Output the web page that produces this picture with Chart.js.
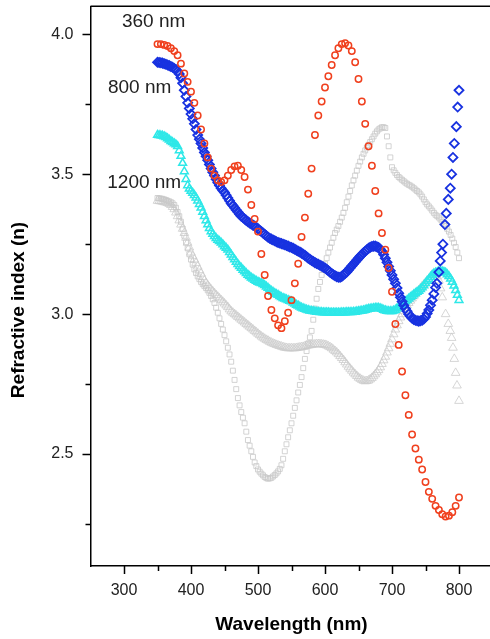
<!DOCTYPE html>
<html>
<head>
<meta charset="utf-8">
<script src="https://cdn.jsdelivr.net/npm/chart.js@4.4.0/dist/chart.umd.min.js"></script>
<style>
  html, body { margin: 0; padding: 0; background: #fff; overflow: hidden; }
</style>
</head>
<body>
<canvas id="grafico" width="500" height="639"></canvas>
<script>
// eixos
const ticksX = [300, 400, 500, 600, 700, 800];
const minorX = [350, 450, 550, 650, 750];
const ticksY = [2.5, 3.0, 3.5, 4.0];
const minorY = [2.25, 2.75, 3.25, 3.75];

// comprimentos de onda (nm), passo de 5
const comp = [350,355,360,365,370,375,380,385,390,395,400,405,410,415,420,425,430,435,440,445,
  450,455,460,465,470,475,480,485,490,495,500,505,510,515,520,525,530,535,540,545,
  550,555,560,565,570,575,580,585,590,595,600,605,610,615,620,625,630,635,640,645,
  650,655,660,665,670,675,680,685,690,695,700,705,710,715,720,725,730,735,740,745,
  750,755,760,765,770,775,780,785,790,795,800];

// passo de 2,5 nm
const comp25 = [350,352.5,355,357.5,360,362.5,365,367.5,370,372.5,375,377.5,380,382.5,385,387.5,390,392.5,395,397.5,
  400,402.5,405,407.5,410,412.5,415,417.5,420,422.5,425,427.5,430,432.5,435,437.5,440,442.5,445,447.5,
  450,452.5,455,457.5,460,462.5,465,467.5,470,472.5,475,477.5,480,482.5,485,487.5,490,492.5,495,497.5,
  500,502.5,505,507.5,510,512.5,515,517.5,520,522.5,525,527.5,530,532.5,535,537.5,540,542.5,545,547.5,
  550,552.5,555,557.5,560,562.5,565,567.5,570,572.5,575,577.5,580,582.5,585,587.5,590,592.5,595,597.5,
  600,602.5,605,607.5,610,612.5,615,617.5,620,622.5,625,627.5,630,632.5,635,637.5,640,642.5,645,647.5,
  650,652.5,655,657.5,660,662.5,665,667.5,670,672.5,675,677.5,680,682.5,685,687.5,690,692.5,695,697.5,
  700,702.5,705,707.5,710,712.5,715,717.5,720,722.5,725,727.5,730,732.5,735,737.5,740,742.5,745,747.5,
  750,752.5,755,757.5,760,762.5,765,767.5,770,772.5,775,777.5,780,782.5,785,787.5,790,792.5,795,797.5,800];

// 360 nm (vermelho)
const n360 = [3.965,3.965,3.962,3.958,3.950,3.940,3.925,3.895,3.860,3.830,3.795,3.755,3.710,3.660,3.610,3.560,3.520,3.495,3.478,3.472,
  3.478,3.495,3.515,3.528,3.530,3.515,3.490,3.445,3.390,3.340,3.295,3.215,3.140,3.065,3.015,2.985,2.960,2.950,2.975,3.005,
  3.050,3.110,3.180,3.276,3.345,3.430,3.520,3.640,3.710,3.760,3.810,3.850,3.890,3.925,3.950,3.965,3.968,3.960,3.940,3.900,
  3.840,3.760,3.680,3.600,3.530,3.440,3.360,3.290,3.230,3.165,3.080,2.965,2.890,2.795,2.710,2.640,2.570,2.520,2.480,2.445,
  2.400,2.365,2.340,2.315,2.300,2.285,2.277,2.280,2.292,2.315,2.345];

// 800 nm (azul): passo de 2,5 ate 765 nm, depois os losangos isolados
const comp800 = comp25.filter(v => v <= 765).concat([767,770,772,774,776,779,781,784,787,789,791,793,796,798,800]);
const n800 = [3.900,3.899,3.898,3.897,3.895,3.893,3.890,3.888,3.885,3.882,3.878,3.874,3.868,3.858,3.845,3.825,3.800,3.778,3.755,3.735,
  3.715,3.698,3.680,3.660,3.640,3.625,3.610,3.594,3.578,3.564,3.550,3.535,3.520,3.507,3.495,3.482,3.470,3.460,3.450,3.442,
  3.435,3.425,3.415,3.405,3.395,3.388,3.380,3.372,3.365,3.357,3.350,3.345,3.340,3.335,3.330,3.326,3.322,3.318,3.315,3.310,
  3.305,3.300,3.295,3.290,3.285,3.280,3.275,3.271,3.268,3.265,3.262,3.259,3.256,3.254,3.252,3.250,3.248,3.245,3.243,3.240,
  3.238,3.235,3.232,3.228,3.225,3.222,3.218,3.214,3.210,3.205,3.200,3.196,3.192,3.188,3.184,3.181,3.178,3.175,3.172,3.168,
  3.165,3.160,3.155,3.150,3.145,3.141,3.137,3.134,3.132,3.132,3.135,3.140,3.145,3.151,3.158,3.165,3.172,3.179,3.186,3.193,
  3.200,3.207,3.213,3.219,3.225,3.230,3.235,3.239,3.242,3.243,3.243,3.241,3.238,3.232,3.225,3.213,3.200,3.185,3.170,3.155,
  3.140,3.125,3.110,3.093,3.075,3.060,3.045,3.032,3.020,3.010,3.000,2.992,2.985,2.981,2.978,2.976,2.975,2.976,2.978,2.983,
  2.990,3.002,3.015,3.032,3.050,3.072,3.095,
  3.110,3.150,3.190,3.220,3.250,3.320,3.360,3.410,3.450,3.500,3.560,3.610,3.670,3.740,3.800];

// 1200 nm (ciano), passo de 2,5
const n1200 = [3.640,3.639,3.638,3.637,3.635,3.632,3.628,3.623,3.618,3.614,3.610,3.606,3.600,3.585,3.565,3.540,3.510,3.482,3.460,3.448,
  3.440,3.433,3.425,3.416,3.405,3.393,3.380,3.365,3.350,3.335,3.320,3.307,3.295,3.286,3.278,3.271,3.265,3.260,3.255,3.249,
  3.242,3.236,3.230,3.221,3.212,3.203,3.195,3.186,3.178,3.171,3.165,3.158,3.152,3.146,3.140,3.135,3.130,3.126,3.122,3.118,
  3.115,3.112,3.110,3.107,3.103,3.098,3.093,3.088,3.083,3.079,3.075,3.071,3.068,3.064,3.060,3.057,3.055,3.052,3.050,3.047,
  3.045,3.041,3.037,3.033,3.030,3.026,3.023,3.020,3.018,3.016,3.014,3.012,3.011,3.010,3.009,3.008,3.008,3.007,3.007,3.006,
  3.006,3.006,3.006,3.005,3.005,3.005,3.005,3.005,3.005,3.005,3.006,3.006,3.006,3.007,3.007,3.007,3.007,3.008,3.008,3.009,
  3.010,3.011,3.012,3.013,3.015,3.017,3.018,3.019,3.020,3.021,3.022,3.022,3.022,3.020,3.018,3.015,3.013,3.011,3.010,3.010,
  3.010,3.012,3.015,3.020,3.025,3.030,3.035,3.040,3.045,3.050,3.055,3.060,3.065,3.070,3.075,3.079,3.083,3.089,3.095,3.102,
  3.110,3.118,3.125,3.133,3.140,3.145,3.148,3.150,3.152,3.153,3.152,3.151,3.148,3.142,3.135,3.126,3.115,3.101,3.085,3.068,3.050];

// cinza, quadrados, passo de 2,5
const cinzaQ = [3.415,3.414,3.413,3.412,3.410,3.408,3.405,3.403,3.400,3.396,3.390,3.380,3.365,3.350,3.330,3.305,3.280,3.257,3.235,3.214,
  3.195,3.177,3.160,3.147,3.135,3.125,3.115,3.107,3.100,3.093,3.085,3.076,3.065,3.053,3.040,3.023,3.005,2.985,2.965,2.945,
  2.925,2.903,2.880,2.856,2.830,2.798,2.765,2.732,2.700,2.674,2.650,2.630,2.610,2.580,2.550,2.530,2.510,2.490,2.470,2.457,
  2.445,2.437,2.430,2.424,2.418,2.414,2.412,2.413,2.415,2.420,2.425,2.431,2.438,2.447,2.460,2.483,2.510,2.535,2.560,2.585,
  2.610,2.637,2.665,2.692,2.720,2.747,2.775,2.807,2.840,2.868,2.895,2.917,2.940,2.980,3.020,3.055,3.090,3.115,3.140,3.160,
  3.180,3.200,3.220,3.238,3.255,3.273,3.290,3.302,3.315,3.330,3.345,3.362,3.380,3.400,3.420,3.440,3.460,3.478,3.495,3.513,
  3.530,3.545,3.560,3.573,3.585,3.595,3.605,3.615,3.625,3.635,3.645,3.653,3.660,3.664,3.668,3.668,3.665,3.635,3.600,3.560,
  3.525,3.514,3.505,3.497,3.490,3.485,3.480,3.475,3.470,3.466,3.462,3.459,3.455,3.450,3.445,3.440,3.435,3.428,3.420,3.410,
  3.400,3.392,3.385,3.378,3.370,3.362,3.355,3.350,3.345,3.338,3.330,3.323,3.315,3.305,3.295,3.283,3.270,3.255,3.240,3.220,3.200];

// cinza, triangulos: passo de 2,5 ate 775 nm, depois os triangulos isolados
const compT = comp25.filter(v => v <= 775).concat([780,784,787,789,791,793,795,797,800]);
const cinzaT = [3.405,3.404,3.403,3.402,3.400,3.399,3.397,3.394,3.390,3.383,3.375,3.363,3.350,3.335,3.320,3.305,3.290,3.273,3.255,3.238,
  3.220,3.207,3.195,3.183,3.170,3.157,3.145,3.132,3.120,3.111,3.103,3.095,3.088,3.081,3.075,3.068,3.062,3.056,3.050,3.044,
  3.038,3.031,3.025,3.017,3.010,3.005,3.000,2.995,2.990,2.985,2.980,2.975,2.970,2.965,2.960,2.955,2.950,2.945,2.940,2.935,
  2.930,2.925,2.920,2.916,2.912,2.908,2.905,2.901,2.898,2.895,2.893,2.890,2.888,2.886,2.884,2.882,2.880,2.879,2.878,2.878,
  2.878,2.878,2.878,2.879,2.880,2.881,2.882,2.883,2.885,2.887,2.888,2.889,2.890,2.891,2.892,2.893,2.893,2.893,2.892,2.891,
  2.890,2.888,2.885,2.882,2.878,2.873,2.868,2.863,2.857,2.850,2.843,2.836,2.828,2.820,2.812,2.805,2.798,2.791,2.785,2.779,
  2.773,2.769,2.765,2.762,2.760,2.761,2.763,2.767,2.772,2.778,2.785,2.792,2.800,2.810,2.822,2.835,2.848,2.863,2.878,2.894,
  2.910,2.928,2.945,2.960,2.975,2.988,3.000,3.011,3.022,3.031,3.040,3.048,3.056,3.064,3.072,3.079,3.085,3.093,3.100,3.106,
  3.112,3.119,3.125,3.133,3.140,3.143,3.145,3.135,3.120,3.092,3.060,
  3.000,2.965,2.940,2.915,2.880,2.840,2.790,2.745,2.690];

// rotulos das curvas [texto, nm, n]
const rotulos = [['360 nm', 297, 4.045], ['800 nm', 276, 3.81], ['1200 nm', 275, 3.47]];

const pontos = (xs, ys) => xs.map((x, i) => ({ x: x, y: ys[i] }));
const fonte = '"Liberation Sans", Arial, sans-serif';

const extras = {
  id: 'extras',
  afterDraw(chart) {
    const { ctx, chartArea: a, scales: { x, y } } = chart;
    ctx.save();
    ctx.strokeStyle = '#000';
    ctx.lineWidth = 1.5;
    ctx.beginPath();
    ctx.moveTo(a.left, a.top);
    ctx.lineTo(a.right, a.top);
    ticksX.forEach(v => { const p = Math.round(x.getPixelForValue(v)) + 0.5; ctx.moveTo(p, a.bottom); ctx.lineTo(p, a.bottom + 8); });
    minorX.forEach(v => { const p = Math.round(x.getPixelForValue(v)) + 0.5; ctx.moveTo(p, a.bottom); ctx.lineTo(p, a.bottom + 5); });
    ticksY.forEach(v => { const p = Math.round(y.getPixelForValue(v)) + 0.5; ctx.moveTo(a.left, p); ctx.lineTo(a.left - 8, p); });
    minorY.forEach(v => { const p = Math.round(y.getPixelForValue(v)) + 0.5; ctx.moveTo(a.left, p); ctx.lineTo(a.left - 5, p); });
    ctx.stroke();

    ctx.fillStyle = '#222';
    ctx.font = '19px ' + fonte;
    ctx.textAlign = 'left';
    ctx.textBaseline = 'middle';
    rotulos.forEach(r => ctx.fillText(r[0], x.getPixelForValue(r[1]), y.getPixelForValue(r[2])));

    ctx.fillStyle = '#000';
    ctx.font = 'bold 19px ' + fonte;
    ctx.textAlign = 'center';
    ctx.fillText('Wavelength (nm)', (a.left + a.right) / 2, 625);
    ctx.translate(19, 310);
    ctx.rotate(-Math.PI / 2);
    ctx.fillText('Refractive index (n)', 0, 0);
    ctx.restore();
  }
};

const serie = (dados, estilo, cor, raio, larg) => ({
  data: dados,
  showLine: false,
  pointStyle: estilo,
  pointRadius: raio,
  pointBorderColor: cor,
  pointBackgroundColor: 'rgba(0,0,0,0)',
  pointBorderWidth: larg
});

new Chart(document.getElementById('grafico').getContext('2d'), {
  type: 'scatter',
  data: {
    datasets: [
      serie(pontos(comp, n360), 'circle', '#f0401e', 3.2, 1.5),
      serie(pontos(comp800, n800), 'rectRot', '#1832e0', 4.5, 1.8),
      serie(pontos(comp25, n1200), 'triangle', '#2ee8e8', 4.5, 1.5),
      serie(pontos(comp25, cinzaQ), 'rect', '#c8c8c8', 3.5, 0.8),
      serie(pontos(compT, cinzaT), 'triangle', '#cccccc', 5, 0.8)
    ]
  },
  options: {
    responsive: false,
    animation: false,
    layout: { padding: { left: 0, top: 5, right: 7.5, bottom: 0 } },
    plugins: { legend: { display: false }, tooltip: { enabled: false } },
    scales: {
      x: {
        type: 'linear',
        min: 250,
        max: 850,
        afterBuildTicks: s => { s.ticks = ticksX.map(v => ({ value: v })); },
        afterFit: s => { s.height = 73; s.paddingLeft = 0; s.paddingRight = 0; },
        grid: { display: false },
        border: { display: true, color: '#000', width: 1.5 },
        ticks: { color: '#222', font: { size: 16, family: fonte }, padding: 7, maxRotation: 0 }
      },
      y: {
        min: 2.1,
        max: 4.1,
        afterBuildTicks: s => { s.ticks = ticksY.map(v => ({ value: v })); },
        afterFit: s => { s.width = 90.5; s.paddingTop = 0; s.paddingBottom = 0; },
        grid: { display: false },
        border: { display: true, color: '#000', width: 1.5 },
        ticks: { color: '#222', font: { size: 16, family: fonte }, padding: 9, callback: v => v.toFixed(1) }
      }
    }
  },
  plugins: [extras]
});
</script>
</body>
</html>
